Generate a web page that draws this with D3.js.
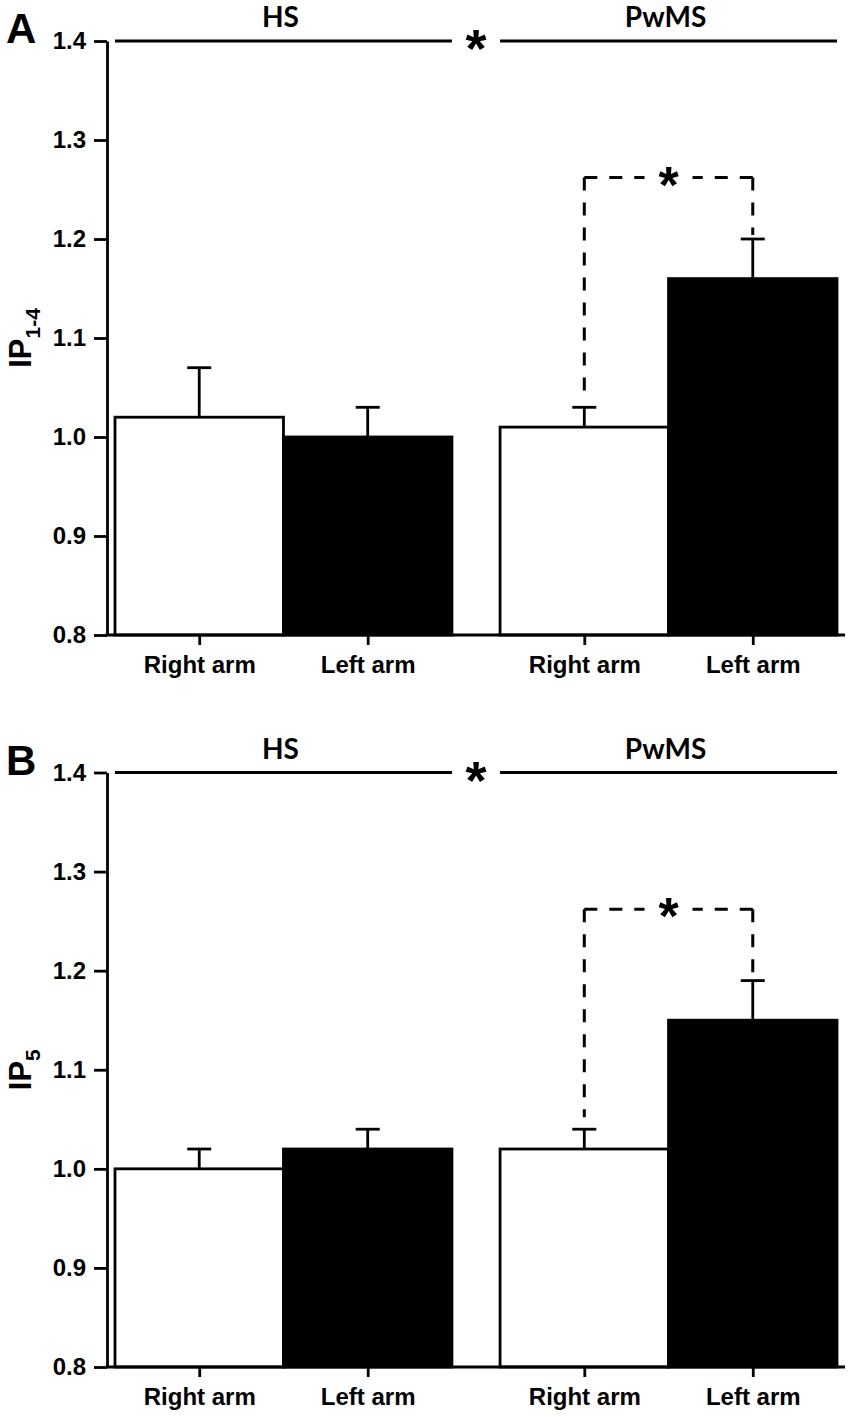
<!DOCTYPE html>
<html><head><meta charset="utf-8">
<script src="https://cdn.jsdelivr.net/npm/d3@7"></script>
<style>body{margin:0;background:#fff}</style>
</head><body><svg id="chart" width="851" height="1417"></svg>
<script>
// ---- data ----
const groups = ["HS", "PwMS"];
const arms = ["Right arm", "Left arm"];
const yTicks = [0.8, 0.9, 1.0, 1.1, 1.2, 1.3, 1.4];
const meansA = [1.02, 1.00, 1.01, 1.16];
const errA   = [0.05, 0.03, 0.02, 0.04];
const meansB = [1.00, 1.02, 1.02, 1.15];
const errB   = [0.02, 0.02, 0.02, 0.04];
const groupSigLevel = 1.4;
const bracketLevel = 1.262;
const bracketBars = [2, 3];
const sigMark = "*";

// ---- layout ----
const panels = [
  {letter: "A", label: "IP", sub: "1-4", means: meansA, errs: errA, top: 41, bottom: 635},
  {letter: "B", label: "IP", sub: "5",   means: meansB, errs: errB, top: 772.5, bottom: 1367}
];
const axisX = 107, axisRight = 845;
const SW = 2.8;
const font = "'Liberation Sans', Arial, sans-serif";
const svg = d3.select("#chart");

const x0 = d3.scaleBand().domain(groups).range([115, 837]).paddingInner(0.125).paddingOuter(0);
const x1 = d3.scaleBand().domain(arms).range([0, x0.bandwidth()]);

panels.forEach(p => {
  const y = d3.scaleLinear().domain([0.8, 1.4]).range([p.bottom, p.top]);
  const g = svg.append("g");
  const rows = [];
  groups.forEach((gr, gi) => arms.forEach((a, ai) => {
    const i = gi * 2 + ai;
    rows.push({group: gr, arm: a, key: gr + "|" + a, mean: p.means[i], err: p.errs[i], ai});
  }));
  const cx = d => x0(d.group) + x1(d.arm) + x1.bandwidth() / 2;

  // error bars (behind bars)
  const eb = g.append("g").attr("stroke", "#000").attr("stroke-width", SW);
  eb.selectAll("line.v").data(rows).join("line")
    .attr("x1", cx).attr("x2", cx)
    .attr("y1", d => y(d.mean)).attr("y2", d => y(d.mean + d.err));
  eb.selectAll("line.c").data(rows).join("line")
    .attr("x1", d => cx(d) - 12).attr("x2", d => cx(d) + 12)
    .attr("y1", d => y(d.mean + d.err)).attr("y2", d => y(d.mean + d.err));

  // bars
  g.append("g").selectAll("rect").data(rows).join("rect")
    .attr("x", d => x0(d.group) + x1(d.arm))
    .attr("width", x1.bandwidth())
    .attr("y", d => y(d.mean))
    .attr("height", d => y(0.8) - y(d.mean))
    .attr("fill", d => d.ai === 0 ? "#fff" : "#000")
    .attr("stroke", "#000").attr("stroke-width", SW);

  // y axis
  const ya = g.append("g").attr("transform", `translate(${axisX},0)`)
    .call(d3.axisLeft(y).tickValues(yTicks).tickFormat(d3.format(".1f")).tickSize(13).tickSizeOuter(0).tickPadding(8));
  ya.selectAll("path,line").attr("stroke", "#000").attr("stroke-width", SW);
  ya.selectAll("text").attr("font-family", font).attr("font-weight", "bold").attr("font-size", 24).attr("fill", "#000");

  // x axis
  const xo = d3.scaleOrdinal().domain(rows.map(d => d.key)).range(rows.map(cx));
  const xa = g.append("g").attr("transform", `translate(0,${p.bottom})`)
    .call(d3.axisBottom(xo).tickSize(10).tickPadding(11).tickFormat(k => k.split("|")[1]));
  xa.select("path.domain").remove();
  xa.selectAll("line").attr("stroke", "#000").attr("stroke-width", SW);
  xa.selectAll("text").attr("font-family", font).attr("font-weight", "bold").attr("font-size", 24).attr("fill", "#000");
  g.append("line").attr("x1", axisX - SW / 2).attr("x2", axisRight)
    .attr("y1", p.bottom).attr("y2", p.bottom).attr("stroke", "#000").attr("stroke-width", SW);

  // group significance line
  const gy = y(groupSigLevel);
  g.append("g").selectAll("line").data(groups).join("line")
    .attr("x1", d => x0(d)).attr("x2", d => x0(d) + x0.bandwidth())
    .attr("y1", gy).attr("y2", gy).attr("stroke", "#000").attr("stroke-width", SW);
  g.append("g").selectAll("text").data(groups).join("text")
    .attr("x", d => x0(d) + x0.bandwidth() / 2 - 3).attr("y", gy - 14)
    .attr("text-anchor", "middle").attr("font-family", "Lato, 'Open Sans', sans-serif")
    .attr("font-weight", "bold").attr("font-size", 28).text(d => d);
  const midGap = (x0(groups[0]) + x0.bandwidth() + x0(groups[1])) / 2;
  g.append("text").attr("x", midGap).attr("y", gy + 26)
    .attr("text-anchor", "middle").attr("font-family", font).attr("font-weight", "bold")
    .attr("font-size", 54).text(sigMark);

  // bracket
  const bL = rows[bracketBars[0]], bR = rows[bracketBars[1]];
  const xl = cx(bL), xr = cx(bR), yb = y(bracketLevel), xm = (xl + xr) / 2;
  const segs = [
    [[xl, yb], [xl, y(bL.mean + bL.err) - 12]],
    [[xl, yb], [xm - 24, yb]],
    [[xr, yb], [xm + 24, yb]],
    [[xr, yb], [xr, y(bR.mean + bR.err) - 4]]
  ];
  g.append("g").selectAll("path").data(segs).join("path")
    .attr("d", d3.line()).attr("fill", "none").attr("stroke", "#000")
    .attr("stroke-width", 3).attr("stroke-dasharray", "13,12");
  g.append("text").attr("x", xm).attr("y", yb + 25)
    .attr("text-anchor", "middle").attr("font-family", font).attr("font-weight", "bold")
    .attr("font-size", 52).text(sigMark);

  // y label
  const lab = g.append("text")
    .attr("transform", `translate(31,${(p.top + p.bottom) / 2}) rotate(-90)`)
    .attr("text-anchor", "middle").attr("font-family", font).attr("font-weight", "bold")
    .attr("font-size", 31);
  lab.append("tspan").text(p.label);
  lab.append("tspan").attr("font-size", 21).attr("dy", 9).text(p.sub);

  // panel letter
  g.append("text").attr("x", 6).attr("y", p.top + 2)
    .attr("font-family", font).attr("font-weight", "bold").attr("font-size", 42).text(p.letter);
});
</script></body></html>
